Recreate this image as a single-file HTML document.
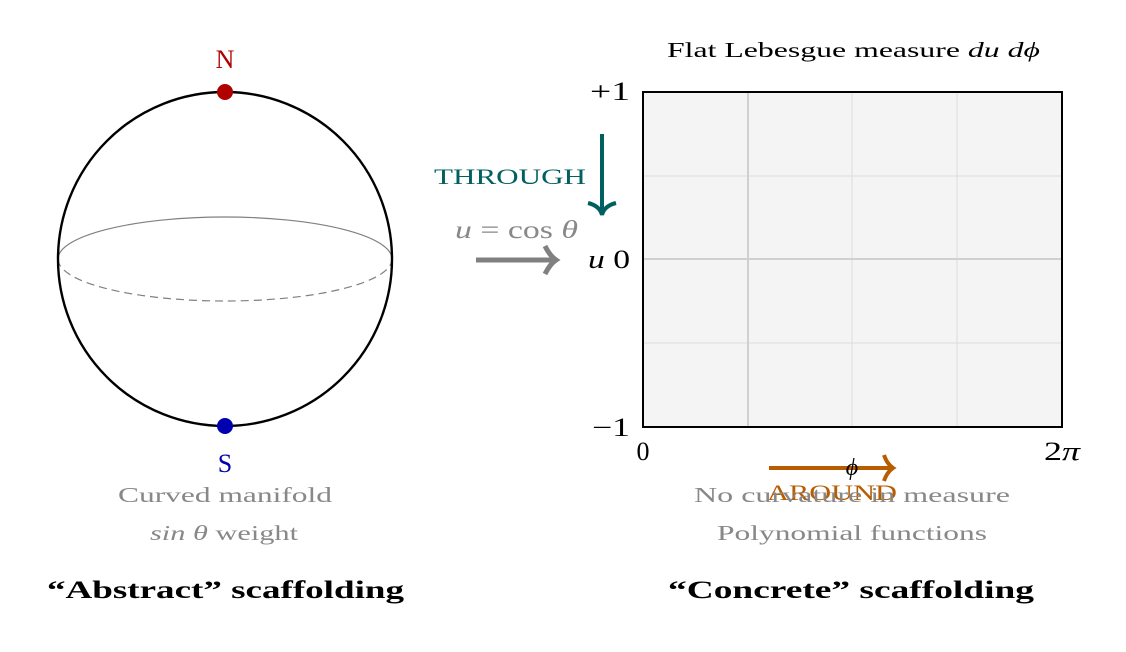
<!DOCTYPE html>
<html><head><style>body{margin:0;background:#fff}svg{display:block}text{font-family:"Liberation Serif","DejaVu Serif",serif}</style></head><body>
<svg width="1126" height="652" viewBox="0 0 1126 652" xmlns="http://www.w3.org/2000/svg">
<path d="M58,259 A167,42 0 0 1 392,259" fill="none" stroke="#808080" stroke-width="1.2"/>
<path d="M58,259 A167,42 0 0 0 392,259" fill="none" stroke="#808080" stroke-width="1.2" stroke-dasharray="8,5"/>
<circle cx="225" cy="259" r="167" fill="none" stroke="#000" stroke-width="2.4"/>
<circle cx="225" cy="92" r="8" fill="#b00000"/>
<circle cx="225" cy="426" r="8" fill="#0000b0"/>
<text x="225" y="68" font-size="26" fill="#b00000" text-anchor="middle">N</text>
<text x="225" y="472" font-size="26" fill="#0000b0" text-anchor="middle">S</text>
<text x="118" y="502" font-size="21" fill="#888" textLength="214" lengthAdjust="spacingAndGlyphs">Curved manifold</text>
<text x="150" y="540" font-size="21" fill="#888" textLength="148" lengthAdjust="spacingAndGlyphs"><tspan font-style="italic">sin θ</tspan> weight</text>
<text x="47" y="598" font-size="25" font-weight="bold" textLength="357" lengthAdjust="spacingAndGlyphs">“Abstract” scaffolding</text>
<rect x="643" y="92" width="419" height="335" fill="#f4f4f4"/>
<g stroke="#dcdcdc" stroke-width="1">
<line x1="852" y1="92" x2="852" y2="427"/><line x1="957" y1="92" x2="957" y2="427"/>
<line x1="643" y1="176" x2="1062" y2="176"/><line x1="643" y1="343" x2="1062" y2="343"/>
</g>
<g stroke="#d0d0d0" stroke-width="2"><line x1="748" y1="92" x2="748" y2="427"/><line x1="643" y1="259" x2="1062" y2="259"/></g>
<rect x="643" y="92" width="419" height="335" fill="none" stroke="#000" stroke-width="2"/>
<text x="667" y="57" font-size="21" textLength="373" lengthAdjust="spacingAndGlyphs">Flat Lebesgue measure <tspan font-style="italic">du dϕ</tspan></text>
<text x="590" y="100" font-size="26" textLength="40" lengthAdjust="spacingAndGlyphs">+1</text>
<text x="592" y="436" font-size="26" textLength="38" lengthAdjust="spacingAndGlyphs">−1</text>
<text x="588" y="268" font-size="26" textLength="42" lengthAdjust="spacingAndGlyphs"><tspan font-style="italic">u</tspan> 0</text>
<text x="643" y="460" font-size="26" text-anchor="middle">0</text>
<text x="1044" y="460" font-size="26" textLength="36" lengthAdjust="spacingAndGlyphs">2<tspan font-style="italic">π</tspan></text>
<line x1="602" y1="134" x2="602" y2="212" stroke="#005f5f" stroke-width="4"/>
<path d="M588,203 Q600,206 602,215 Q604,206 616,203" fill="none" stroke="#005f5f" stroke-width="4"/>
<text x="434" y="184" font-size="22" fill="#005f5f" textLength="152" lengthAdjust="spacingAndGlyphs">THROUGH</text>
<text x="455" y="238" font-size="25" fill="#888" textLength="123" lengthAdjust="spacingAndGlyphs"><tspan font-style="italic">u</tspan> = cos <tspan font-style="italic">θ</tspan></text>
<line x1="476" y1="260" x2="553" y2="260" stroke="#808080" stroke-width="5"/>
<path d="M545,246 Q550,256 556,260 Q550,264 545,274" fill="none" stroke="#808080" stroke-width="5"/>
<line x1="769" y1="468" x2="890" y2="468" stroke="#b85c00" stroke-width="4"/>
<path d="M884,455 Q887,464 893,468 Q887,472 884,481" fill="none" stroke="#b85c00" stroke-width="4"/>
<text x="852" y="475" font-size="24" font-style="italic" text-anchor="middle">ϕ</text>
<text x="767" y="500" font-size="22" fill="#b85c00" textLength="130" lengthAdjust="spacingAndGlyphs">AROUND</text>
<text x="694" y="502" font-size="21" fill="#888" textLength="316" lengthAdjust="spacingAndGlyphs">No curvature in measure</text>
<text x="717" y="540" font-size="21" fill="#888" textLength="270" lengthAdjust="spacingAndGlyphs">Polynomial functions</text>
<text x="668" y="598" font-size="25" font-weight="bold" textLength="366" lengthAdjust="spacingAndGlyphs">“Concrete” scaffolding</text>
</svg>
</body></html>
